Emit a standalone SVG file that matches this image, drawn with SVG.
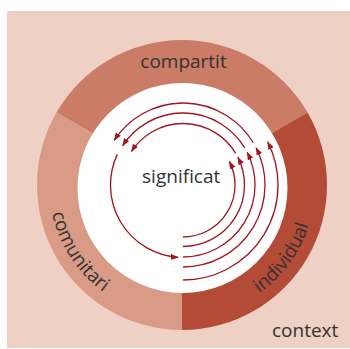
<svg xmlns="http://www.w3.org/2000/svg" width="350" height="349" viewBox="0 0 350 349">
  <style>
    .lbl { font-family: "Open Sans", "Liberation Sans", sans-serif; font-size: 19px; fill: #333333; }
    .arc { fill: none; stroke: #A3141C; stroke-width: 1.3; marker-end: url(#ah); }
  </style>
  <defs>
    <marker id="ah" viewBox="0 0 8 6" refX="7.5" refY="3" markerWidth="8" markerHeight="6" markerUnits="userSpaceOnUse" orient="auto">
      <path d="M0,0 L8,3 L0,6 z" fill="#A3141C"/>
    </marker>
    <path id="pComunitari" d="M58.69,135.18 A133,133 0 0 0 177.36,317.92"/>
    <path id="pIndividual" d="M182,318 A133,133 0 0 0 308.50,143.90"/>
  </defs>

  <g id="context">
    <rect x="7" y="11" width="343" height="337" fill="#EFD0C4"/>
    <text class="lbl" x="338.3" y="337.3" text-anchor="end">context</text>
  </g>

  <g id="compartit">
    <path d="M182,185 L56.43,112.5 A145,145 0 0 1 307.57,112.5 Z" fill="#CB7C67"/>
    <text class="lbl" x="183.5" y="68.3" text-anchor="middle">compartit</text>
  </g>

  <g id="comunitari">
    <path d="M182,185 L182,330 A145,145 0 0 1 56.43,112.5 Z" fill="#D99A86"/>
  </g>

  <g id="individual">
    <path d="M182,185 L307.57,112.5 A145,145 0 0 1 182,330 Z" fill="#B34B36"/>
  </g>

  <g id="significat">
    <circle cx="182.5" cy="188" r="105" fill="#FFFFFF"/>
    <text class="lbl" x="181.2" y="183.3" text-anchor="middle">significat</text>
  </g>

  <g id="ring-labels">
    <text class="lbl"><textPath href="#pComunitari" startOffset="50%" text-anchor="middle">comunitari</textPath></text>
    <text class="lbl"><textPath href="#pIndividual" startOffset="50%" text-anchor="middle">individual</textPath></text>
  </g>

  <g id="connectors">
    <path class="arc" d="M183,237 A52,52 0 0 0 229.33,161.39"/>
    <path class="arc" d="M183,246.5 A61.5,61.5 0 0 0 237.80,157.08"/>
    <path class="arc" d="M183,257 A72,72 0 0 0 247.15,152.31"/>
    <path class="arc" d="M183,267 A82,82 0 0 0 256.06,147.77"/>
    <path class="arc" d="M183,280 A95,95 0 0 0 267.65,141.87"/>
    <path class="arc" d="M235.72,153.33 A61.5,61.5 0 0 0 131.42,151.51"/>
    <path class="arc" d="M244.72,147.92 A72,72 0 0 0 122.61,145.79"/>
    <path class="arc" d="M253.29,142.77 A82,82 0 0 0 114.23,140.34"/>
    <path class="arc" d="M117.29,154.36 A72.5,72.5 0 0 0 178.32,257.35"/>
  </g>
</svg>
